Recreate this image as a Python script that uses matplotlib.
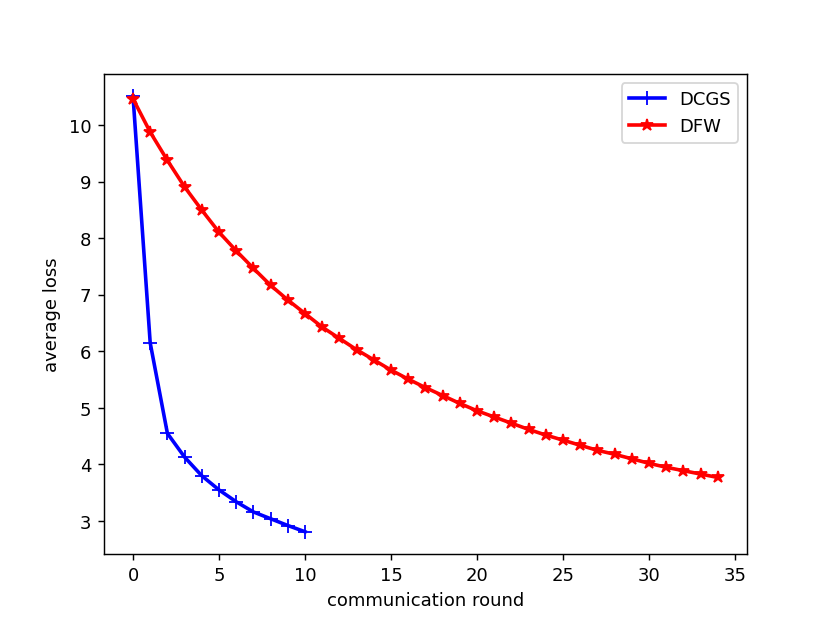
import numpy as np
import matplotlib
matplotlib.use("Agg")
import matplotlib.pyplot as plt

# average loss per communication round
dcgs_rounds = list(range(11))
dcgs_loss = [10.52, 6.15, 4.55, 4.13, 3.80, 3.55, 3.34, 3.16, 3.04, 2.92, 2.81]

dfw_rounds = list(range(35))
dfw_loss = [10.47, 9.88, 9.38, 8.91, 8.50, 8.11, 7.78, 7.47, 7.17, 6.91,
            6.67, 6.43, 6.23, 6.03, 5.85, 5.67, 5.51, 5.36, 5.22, 5.08,
            4.95, 4.84, 4.73, 4.62, 4.52, 4.43, 4.34, 4.25, 4.18, 4.10,
            4.02, 3.95, 3.89, 3.83, 3.77]


def main():
    fig = plt.figure(figsize=(6.4, 4.8), dpi=129.7)
    plt.plot(dcgs_rounds, dcgs_loss, color='blue', marker='+', linewidth=2,
             markersize=8, label='DCGS')
    plt.plot(dfw_rounds, dfw_loss, color='red', marker='*', linewidth=2,
             markersize=7, label='DFW')
    plt.legend(loc='upper right')
    plt.xlabel("communication round")
    plt.ylabel("average loss")
    plt.savefig("out.png")


if __name__ == "__main__":
    main()
